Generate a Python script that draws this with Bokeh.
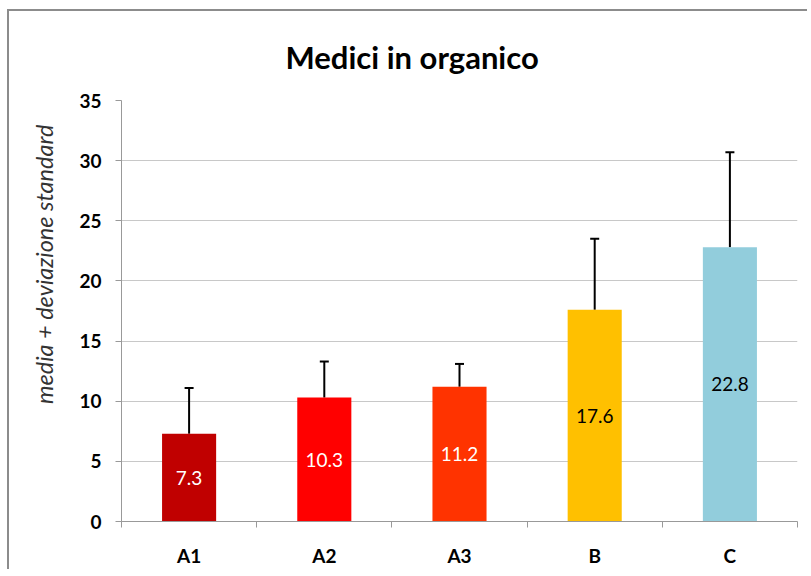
from bokeh.plotting import figure
from bokeh.models import ColumnDataSource, FixedTicker, Whisker, TeeHead, LabelSet, Range1d, Title
from bokeh.core.properties import value
from bokeh.embed import file_html
from bokeh.resources import INLINE

categories = ["A1", "A2", "A3", "B", "C"]
means = [7.3, 10.3, 11.2, 17.6, 22.8]
sds = [3.8, 3.0, 1.9, 5.9, 7.9]
bar_colors = ["#C00000", "#FF0000", "#FF3300", "#FFC000", "#92CDDC"]
label_colors = ["white", "white", "white", "black", "black"]
y_ticks = [0, 5, 10, 15, 20, 25, 30, 35]

xs = [i + 0.5 for i in range(len(categories))]
src = ColumnDataSource(dict(
    x=xs, mean=means, top=[m + s for m, s in zip(means, sds)],
    mid=[m / 2 for m in means], color=bar_colors, lcolor=label_colors,
    text=[f"{m:.1f}" for m in means],
))

FONT = "Lato"
p = figure(width=800, height=560, output_backend="svg", toolbar_location=None,
           x_range=Range1d(0, len(categories)), y_range=Range1d(0, 35),
           min_border_left=111, min_border_right=12, min_border_top=88, min_border_bottom=50)
p.title = Title(text="Medici in organico", align="left", offset=164,
                text_font=FONT, text_font_size="31px", text_font_style="bold",
                text_color="black", standoff=49)
p.add_layout(Title(text="media + deviazione standard", align="right", offset=24,
                   text_font=FONT, text_font_size="23.5px", text_font_style="italic",
                   text_color="#333333", standoff=37), "left")
p.outline_line_color = None
p.styles = {"margin-left": "7px", "margin-top": "9px",
            "border-left": "2px solid #8c8c8c", "border-top": "2px solid #8c8c8c"}

p.vbar(x="x", top="mean", width=0.4, bottom=0, color="color", source=src, line_color=None)

w = Whisker(base="x", lower="mean", upper="top", source=src, line_color="black", line_width=2,
            lower_head=None, upper_head=TeeHead(size=9, line_color="black", line_width=2))
p.add_layout(w)

labels = LabelSet(x="x", y="mid", text="text", source=src, text_color="lcolor",
                  text_align="center", text_baseline="middle", text_font_size="19px",
                  text_font=value(FONT))
p.add_layout(labels)

p.xaxis.ticker = FixedTicker(ticks=xs, minor_ticks=list(range(len(categories) + 1)))
p.xaxis.major_label_overrides = {x: c for x, c in zip(xs, categories)}
p.xaxis.major_tick_line_color = None
p.xaxis.major_tick_in = 0
p.xaxis.major_tick_out = 6
p.xaxis.minor_tick_in = 0
p.xaxis.minor_tick_out = 6
p.xaxis.minor_tick_line_color = "#999999"
p.xaxis.axis_line_color = "#999999"
p.xaxis.major_label_text_font = FONT
p.xaxis.major_label_text_font_size = "19px"
p.xaxis.major_label_text_font_style = "bold"
p.xaxis.major_label_text_color = "black"
p.xaxis.major_label_standoff = 16

p.yaxis.ticker = FixedTicker(ticks=y_ticks)
p.yaxis.minor_tick_line_color = None
p.yaxis.major_tick_in = 0
p.yaxis.major_tick_out = 6
p.yaxis.major_tick_line_color = "#999999"
p.yaxis.axis_line_color = "#999999"
p.yaxis.major_label_text_font = FONT
p.yaxis.major_label_text_font_size = "19px"
p.yaxis.major_label_text_font_style = "bold"
p.yaxis.major_label_text_color = "black"
p.yaxis.major_label_standoff = 14

p.xgrid.grid_line_color = None
p.ygrid.grid_line_color = "#c8c8c8"
p.ygrid.ticker = FixedTicker(ticks=y_ticks)

open("out.html", "w").write(file_html(p, INLINE))
